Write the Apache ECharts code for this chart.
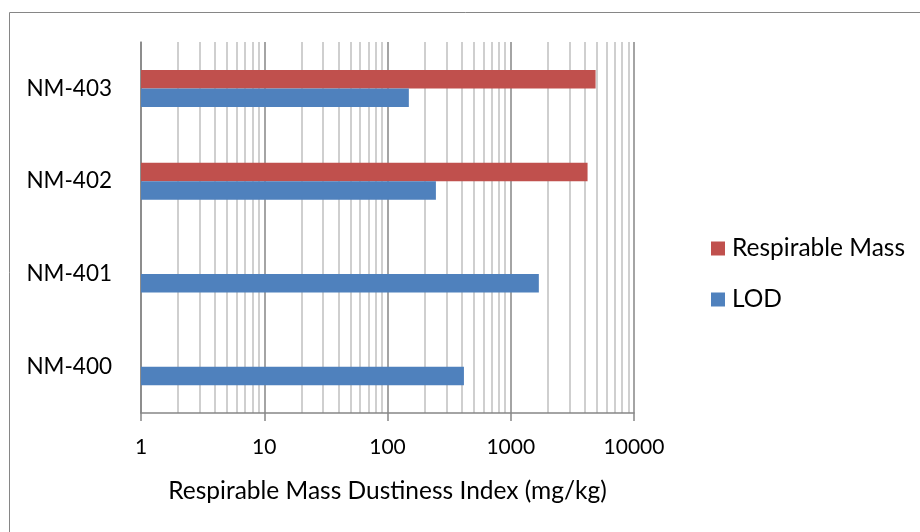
<!DOCTYPE html>
<html>
<head>
<meta charset="utf-8">
<script src="https://cdn.jsdelivr.net/npm/echarts@6/dist/echarts.min.js"></script>
<style>
  html, body { margin: 0; padding: 0; background: #fff; }
  #chart { width: 920px; height: 532px; }
</style>
</head>
<body>
<div id="chart"></div>
<script>
// Dustiness index per nanomaterial (mg/kg), log scale
const categories = ['NM-400', 'NM-401', 'NM-402', 'NM-403'];
const respirableMass = [null, null, 4200, 4880];
const lod = [417, 1690, 247, 149];
const xTicks = [1, 10, 100, 1000, 10000];

// Minor gridlines at 2..9 of every decade
const minorGrid = [];
for (let d = 0; d < xTicks.length - 1; d++) {
  for (let m = 2; m <= 9; m++) minorGrid.push(xTicks[d] * m);
}

const FONT = 'Lato';
const chart = echarts.init(document.getElementById('chart'));

chart.setOption({
  animation: false,
  backgroundColor: '#ffffff',
  textStyle: { fontFamily: FONT, color: '#000' },
  grid: { left: 141, right: 286, top: 42, bottom: 119, containLabel: false },
  graphic: [{
    type: 'rect',
    shape: { x: 9.5, y: 12.5, width: 920, height: 530 },
    style: { fill: 'none', stroke: '#868686', lineWidth: 1 },
    silent: true
  }],
  legend: {
    orient: 'vertical',
    left: 711,
    top: 236,
    padding: 0,
    itemWidth: 14,
    itemHeight: 14,
    itemGap: 26,
    icon: 'rect',
    data: ['Respirable Mass', 'LOD'],
    textStyle: { fontFamily: FONT, fontSize: 24.5, lineHeight: 24, color: '#000', padding: [0, 0, 0, 2] }
  },
  xAxis: {
    type: 'log',
    logBase: 10,
    min: 1,
    max: 10000,
    name: 'Respirable Mass Dustiness Index (mg/kg)',
    nameLocation: 'middle',
    nameGap: 66,
    nameTextStyle: { fontFamily: FONT, fontSize: 24.5, color: '#000' },
    axisLine: { show: true, lineStyle: { color: '#868686', width: 1.5 } },
    axisTick: { show: true, length: 8, lineStyle: { color: '#868686', width: 1.5 } },
    axisLabel: {
      fontFamily: FONT, fontSize: 21, color: '#000', margin: 24,
      formatter: v => String(Math.round(v))
    },
    splitLine: { show: true, lineStyle: { color: '#868686', width: 1.5 } },
    minorTick: { show: false },
    minorSplitLine: { show: false }
  },
  yAxis: {
    type: 'category',
    data: categories,
    axisLine: { show: true, lineStyle: { color: '#868686', width: 1.5 } },
    axisTick: { show: false },
    axisLabel: { fontFamily: FONT, fontSize: 22.5, color: '#000', margin: 29 },
    splitLine: { show: false }
  },
  series: [
    {
      name: 'minor-grid',
      type: 'scatter',
      data: [],
      silent: true,
      z: 0,
      markLine: {
        silent: true,
        symbol: ['none', 'none'],
        label: { show: false },
        lineStyle: { color: '#BFBFBF', width: 1.5, type: 'solid' },
        data: minorGrid.map(v => ({ xAxis: v })),
        z: 0
      }
    },
    {
      name: 'Respirable Mass',
      type: 'bar',
      data: respirableMass,
      barWidth: 18.5,
      barGap: '0%',
      itemStyle: { color: '#C0504D' },
      z: 3
    },
    {
      name: 'LOD',
      type: 'bar',
      data: lod,
      barWidth: 18.5,
      barGap: '0%',
      itemStyle: { color: '#4F81BD' },
      z: 3
    }
  ]
});
</script>
</body>
</html>
